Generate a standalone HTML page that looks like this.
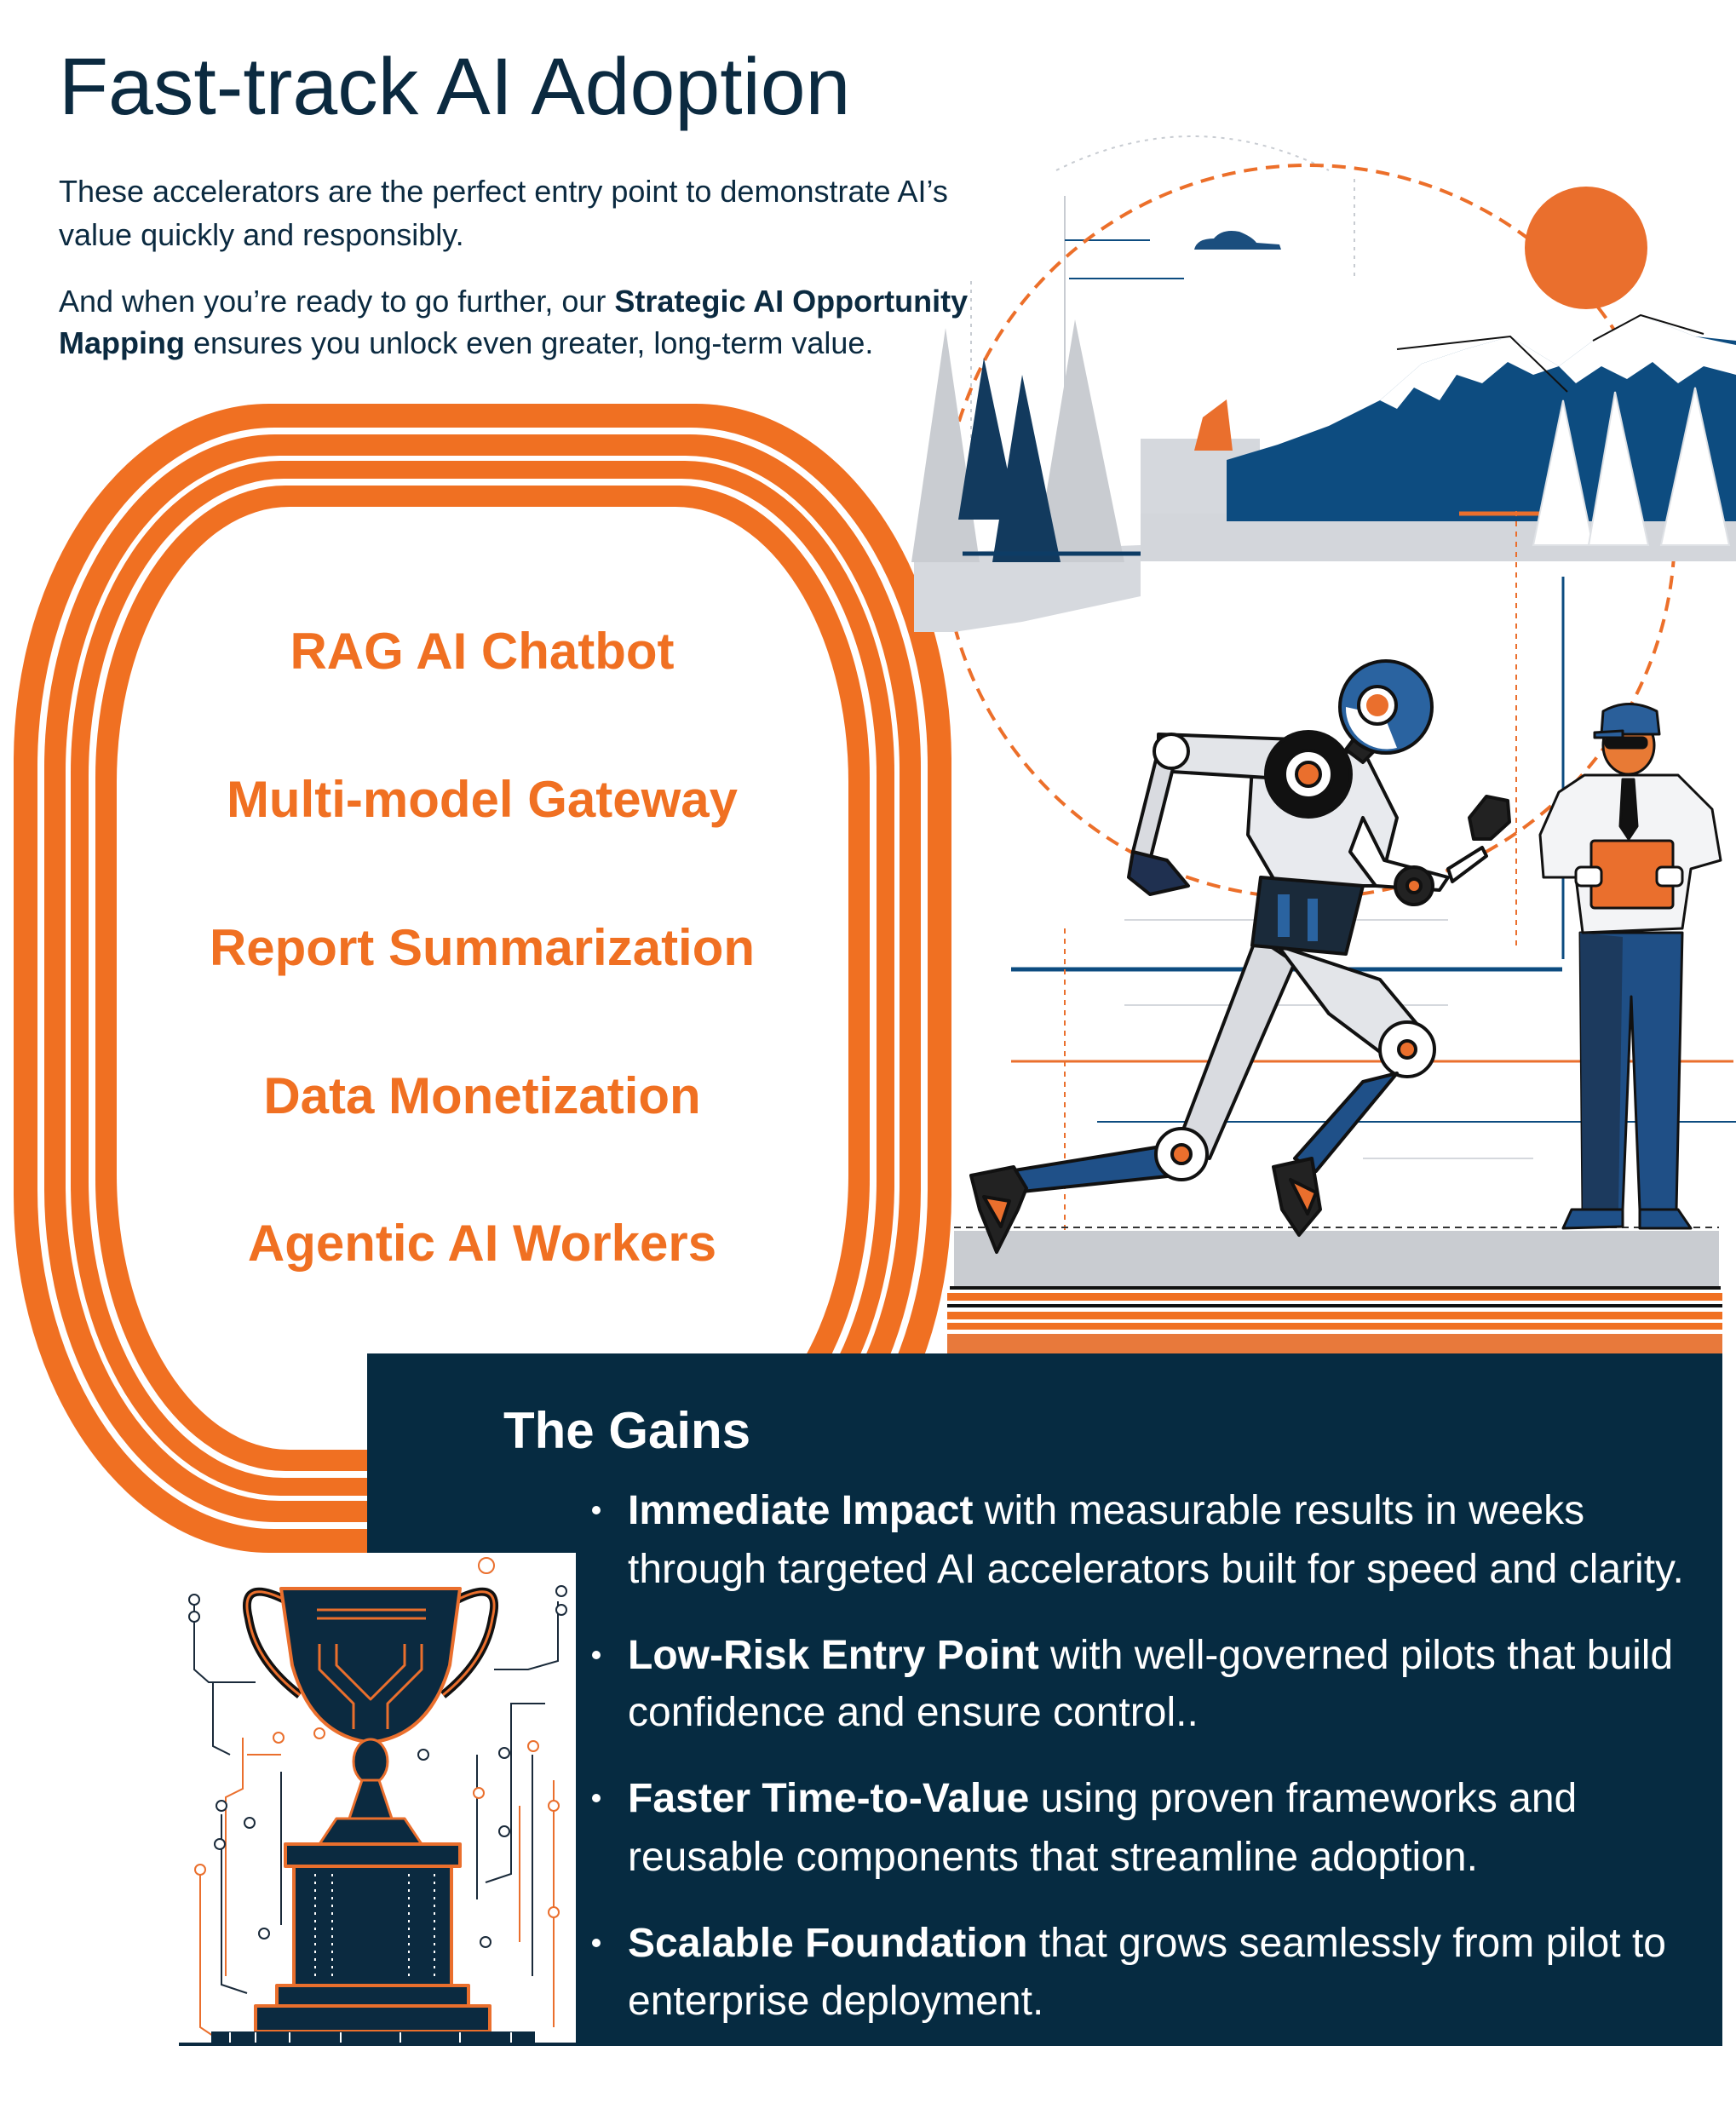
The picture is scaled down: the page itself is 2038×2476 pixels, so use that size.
<!DOCTYPE html>
<html><head><meta charset="utf-8"><style>
html,body{margin:0;padding:0;background:#fff}
svg{display:block}
text{font-family:"Liberation Sans",Arial,sans-serif}
</style></head><body>
<svg width="2038" height="2476" viewBox="0 0 2038 2476" xmlns="http://www.w3.org/2000/svg">
<rect width="2038" height="2476" fill="#fff"/>

<!-- Track -->
<rect x="16" y="474" width="1101" height="1349" rx="300" ry="420" fill="#f07022"/>
<rect x="44" y="502" width="1045" height="1293" rx="278" ry="398" fill="#fff"/>
<rect x="52" y="510" width="1029" height="1277" rx="271" ry="391" fill="#f07022"/>
<rect x="77" y="535" width="979" height="1227" rx="251" ry="371" fill="#fff"/>
<rect x="83" y="541" width="967" height="1215" rx="246" ry="366" fill="#f07022"/>
<rect x="104" y="562" width="925" height="1173" rx="229" ry="349" fill="#fff"/>
<rect x="112" y="570" width="909" height="1157" rx="223" ry="343" fill="#f07022"/>
<rect x="137" y="595" width="859" height="1107" rx="203" ry="323" fill="#fff"/>

<!-- Title & intro -->
<text x="69" y="134" font-size="95" fill="#0b2a40">Fast-track AI Adoption</text>
<g font-size="36" fill="#0b2a40">
<text x="69" y="237">These accelerators are the perfect entry point to demonstrate AI’s</text>
<text x="69" y="288">value quickly and responsibly.</text>
<text x="69" y="366">And when you’re ready to go further, our <tspan font-weight="bold">Strategic AI Opportunity</tspan></text>
<text x="69" y="415"><tspan font-weight="bold">Mapping</tspan> ensures you unlock even greater, long-term value.</text>
</g>

<!-- Menu items -->
<g font-size="60" font-weight="bold" fill="#f07022" text-anchor="middle">
<text x="566" y="785">RAG AI Chatbot</text>
<text x="566" y="959">Multi-model Gateway</text>
<text x="566" y="1133">Report Summarization</text>
<text x="566" y="1307">Data Monetization</text>
<text x="566" y="1480">Agentic AI Workers</text>
</g>

<!-- Illustration -->
<g>
<g stroke="#c8ccd2" stroke-width="2" fill="none">
<line x1="1140" y1="330" x2="1140" y2="740" stroke-dasharray="4 6"/>
<line x1="1250" y1="230" x2="1250" y2="600"/>
<line x1="1590" y1="210" x2="1590" y2="330" stroke-dasharray="4 6"/>
<path d="M1240 200 Q1400 120 1560 200" stroke-dasharray="4 6"/>
</g>
<line x1="1250" y1="282" x2="1350" y2="282" stroke="#0d4c80" stroke-width="2"/>
<line x1="1255" y1="327" x2="1390" y2="327" stroke="#0d4c80" stroke-width="2"/>
<circle cx="1536" cy="624" r="430" fill="none" stroke="#ec6f2a" stroke-width="4" stroke-dasharray="16 10"/>
<circle cx="1862" cy="291" r="72" fill="#ea6f2d"/>
<path d="M1402 293 Q1405 280 1425 280 Q1435 268 1455 272 Q1470 278 1475 285 L1502 287 L1504 293 Z" fill="#1b4e7e"/>
<path d="M1073 650 L1339 640 L1339 700 L1200 730 L1120 742 L1073 742 Z" fill="#d6d9de"/>
<rect x="1339" y="515" width="140" height="144" fill="#d5d8dd"/>
<rect x="1339" y="603" width="699" height="56" fill="#d3d6db"/>
<path d="M1440 612 L1440 540 L1500 522 L1560 500 L1620 470 L1669 427 L1720 410 L1773 395 L1830 430 L1870 400 L1926 370 L1990 395 L2038 400 L2038 612 Z" fill="#0d4c80"/>
<path d="M1620 470 L1669 427 L1720 410 L1773 395 L1830 430 L1800 440 L1770 425 L1740 450 L1710 440 L1690 470 L1660 455 L1640 480 Z" fill="#fff"/>
<path d="M1830 430 L1870 400 L1926 370 L1990 395 L2038 405 L2038 440 L2000 430 L1970 450 L1940 425 L1910 445 L1880 430 L1850 450 Z" fill="#fff"/>
<path d="M1640 410 L1773 395 L1840 460" stroke="#111" stroke-width="2" fill="none"/>
<path d="M1870 400 L1926 370 L2000 392" stroke="#111" stroke-width="2" fill="none"/>
<path d="M1402 529 L1412 490 L1440 469 L1447 529 Z" fill="#ea6f2d"/>
<line x1="1713" y1="603" x2="1808" y2="603" stroke="#ea6f2d" stroke-width="5"/>
<g fill="#fff" stroke="#dfe2e6" stroke-width="2">
<path d="M1835 470 L1870 640 L1800 640 Z"/>
<path d="M1896 460 L1935 640 L1865 640 Z"/>
<path d="M1990 455 L2030 640 L1950 640 Z"/>
</g>
<g fill="#c9ccd1">
<path d="M1110 385 L1150 660 L1070 660 Z"/>
<path d="M1262 375 L1320 660 L1215 660 Z"/>
</g>
<g fill="#123a5e">
<path d="M1155 420 L1195 610 L1125 610 Z"/>
<path d="M1200 440 L1245 660 L1165 660 Z"/>
</g>
<line x1="1130" y1="650" x2="1339" y2="650" stroke="#0d3c65" stroke-width="5"/>

<line x1="1187" y1="1138" x2="1834" y2="1138" stroke="#0d4c80" stroke-width="5"/>
<line x1="1187" y1="1246" x2="2035" y2="1246" stroke="#ea6f2d" stroke-width="3"/>
<line x1="1288" y1="1317" x2="2038" y2="1317" stroke="#0d4c80" stroke-width="2"/>
<line x1="1835" y1="677" x2="1835" y2="1126" stroke="#0d4c80" stroke-width="3"/>
<line x1="1250" y1="1090" x2="1250" y2="1500" stroke="#ea6f2d" stroke-width="2" stroke-dasharray="6 6"/>
<line x1="1780" y1="600" x2="1780" y2="1110" stroke="#ea6f2d" stroke-width="2" stroke-dasharray="6 6"/>
<g stroke="#d5d8dd" stroke-width="2">
<line x1="1320" y1="1080" x2="1700" y2="1080"/>
<line x1="1320" y1="1180" x2="1700" y2="1180"/>
<line x1="1600" y1="1360" x2="1800" y2="1360"/>
</g>

<rect x="1120" y="1445" width="898" height="65" fill="#c9ccd1"/>
<line x1="1120" y1="1441" x2="2018" y2="1441" stroke="#333" stroke-width="2" stroke-dasharray="8 6"/>
<rect x="1115" y="1510" width="905" height="4" fill="#111"/>
<rect x="1112" y="1518" width="910" height="9" fill="#f07022"/>
<rect x="1112" y="1531" width="910" height="4" fill="#111"/>
<rect x="1112" y="1540" width="910" height="9" fill="#f07022"/>
<rect x="1112" y="1553" width="910" height="8" fill="#f07022"/>
<rect x="1112" y="1566" width="910" height="23" fill="#e8793b"/>

<g stroke="#111" stroke-width="4" stroke-linejoin="round">
<path d="M1475 1100 L1520 1130 L1420 1360 L1380 1350 Z" fill="#d9dbe0"/>
<path d="M1400 1340 L1380 1380 L1190 1400 L1185 1375 Z" fill="#1f5088"/>
<circle cx="1387" cy="1355" r="30" fill="#fff"/>
<circle cx="1387" cy="1355" r="11" fill="#ea6f2d"/>
<path d="M1190 1370 L1140 1380 L1150 1420 L1170 1470 L1195 1420 L1205 1395 Z" fill="#222"/>
<path d="M1155 1405 L1175 1440 L1185 1410 Z" fill="#ea6f2d"/>
<path d="M1500 1110 L1620 1150 L1670 1210 L1640 1250 L1560 1190 Z" fill="#e3e5e9"/>
<circle cx="1652" cy="1232" r="32" fill="#fff"/>
<circle cx="1652" cy="1232" r="10" fill="#ea6f2d"/>
<path d="M1640 1260 L1600 1270 L1520 1360 L1545 1375 Z" fill="#1f5088"/>
<path d="M1495 1370 L1540 1360 L1550 1420 L1525 1450 L1505 1420 Z" fill="#222"/>
<path d="M1515 1385 L1535 1425 L1545 1400 Z" fill="#ea6f2d"/>
<path d="M1470 900 L1600 880 L1640 960 L1620 1040 L1500 1040 L1465 980 Z" fill="#e8eaee"/>
<path d="M1480 1030 L1600 1040 L1580 1120 L1470 1110 Z" fill="#1a2a3a"/>
<rect x="1500" y="1050" width="14" height="50" fill="#2a63a0" stroke="none"/>
<rect x="1535" y="1055" width="12" height="50" fill="#2a63a0" stroke="none"/>
<path d="M1360 862 L1520 868 L1520 915 L1360 905 Z" fill="#e3e5e9"/>
<path d="M1360 880 L1380 890 L1350 1010 L1330 1000 Z" fill="#d9dbe0"/>
<circle cx="1375" cy="882" r="20" fill="#fff"/>
<path d="M1330 1000 L1370 1010 L1395 1040 L1350 1050 L1325 1030 Z" fill="#1f3050"/>
<circle cx="1536" cy="909" r="50" fill="#111"/>
<circle cx="1536" cy="909" r="28" fill="#fff"/>
<circle cx="1536" cy="909" r="14" fill="#ea6f2d"/>
<path d="M1600 960 L1625 1010 L1700 1030 L1690 1045 L1615 1040 L1585 1000 Z" fill="#fff"/>
<circle cx="1660" cy="1040" r="22" fill="#222"/>
<circle cx="1660" cy="1040" r="8" fill="#ea6f2d"/>
<path d="M1700 1020 L1740 995 L1745 1005 L1705 1035 Z" fill="#fff"/>
<path d="M1725 960 L1745 935 L1770 940 L1772 965 L1750 985 L1730 985 Z" fill="#222"/>
<path d="M1595 860 L1615 880 L1600 895 L1580 880 Z" fill="#222"/>
<circle cx="1627" cy="830" r="54" fill="#2a63a0"/>
<path d="M1580 830 A48 48 0 0 0 1640 878 L1625 840 Z" fill="#fff" stroke="none"/>
<circle cx="1617" cy="828" r="22" fill="#fff"/>
<circle cx="1617" cy="828" r="13" fill="#ea6f2d" stroke="none"/>
</g>

<g stroke="#111" stroke-width="3" stroke-linejoin="round">
<path d="M1855 1095 L1975 1095 L1968 1420 L1925 1420 L1915 1170 L1905 1420 L1858 1420 Z" fill="#1f4f86"/>
<path d="M1855 1095 L1905 1100 L1900 1420 L1858 1420 Z" fill="#1c3a5e" stroke="none"/>
<path d="M1845 1420 L1905 1420 L1905 1440 L1835 1442 Z" fill="#1f5088"/>
<path d="M1925 1420 L1970 1420 L1985 1442 L1925 1442 Z" fill="#1f5088"/>
<path d="M1860 910 L1970 910 L2010 950 L2020 1010 L1985 1020 L1975 1090 L1858 1095 L1850 1030 L1812 1030 L1808 980 L1830 930 Z" fill="#f3f4f6"/>
<path d="M1905 915 L1918 915 L1922 970 L1912 985 L1902 970 Z" fill="#111"/>
<rect x="1868" y="987" width="96" height="79" rx="4" fill="#ea6f2d"/>
<rect x="1850" y="1018" width="30" height="22" rx="6" fill="#fff"/>
<rect x="1945" y="1018" width="30" height="22" rx="6" fill="#fff"/>
<ellipse cx="1912" cy="875" rx="30" ry="34" fill="#e87a35"/>
<path d="M1880 862 L1882 835 Q1912 818 1945 835 L1948 862 Z" fill="#2a5f9a"/>
<path d="M1872 860 L1905 858 L1905 866 L1872 866 Z" fill="#2a5f9a"/>
<rect x="1885" y="866" width="48" height="12" rx="5" fill="#111"/>
</g>
</g>

<!-- Gains box -->
<rect x="431" y="1589" width="1591" height="813" fill="#062b41"/>
<text x="591" y="1700" font-size="60" font-weight="bold" fill="#fff">The Gains</text>
<g font-size="48" fill="#fff">
<circle cx="700" cy="1773" r="5"/>
<text x="737" y="1789"><tspan font-weight="bold">Immediate Impact</tspan> with measurable results in weeks</text>
<text x="737" y="1858">through targeted AI accelerators built for speed and clarity.</text>
<circle cx="700" cy="1943" r="5"/>
<text x="737" y="1959"><tspan font-weight="bold">Low-Risk Entry Point</tspan> with well-governed pilots that build</text>
<text x="737" y="2026">confidence and ensure control..</text>
<circle cx="700" cy="2111" r="5"/>
<text x="737" y="2127"><tspan font-weight="bold">Faster Time-to-Value</tspan> using proven frameworks and</text>
<text x="737" y="2196">reusable components that streamline adoption.</text>
<circle cx="700" cy="2281" r="5"/>
<text x="737" y="2297"><tspan font-weight="bold">Scalable Foundation</tspan> that grows seamlessly from pilot to</text>
<text x="737" y="2365">enterprise deployment.</text>
</g>

<!-- Trophy -->
<rect x="210" y="1823" width="466" height="577" fill="#fff"/>
<g fill="none" stroke-width="2">
<g stroke="#1a2a3a">
<path d="M228 1880 L228 1960 L245 1975 L300 1975"/>
<path d="M250 1975 L250 2050 L270 2060"/>
<path d="M655 1880 L655 1950 L620 1960 L580 1960"/>
<path d="M640 2000 L600 2000 L600 2200 L570 2210"/>
<path d="M260 2130 L260 2330 L290 2340"/>
<path d="M625 2060 L625 2320"/>
<path d="M330 2080 L330 2260"/>
<path d="M560 2060 L560 2230"/>
</g>
<g stroke="#ea6f2d">
<path d="M285 2040 L285 2100 L265 2110 L265 2320"/>
<path d="M235 2190 L235 2380 L250 2390"/>
<path d="M650 2090 L650 2380"/>
<path d="M290 2060 L330 2060"/>
<path d="M610 2120 L610 2280"/>
</g>
<g stroke="#1a2a3a" fill="#fff">
<circle cx="228" cy="1878" r="6"/><circle cx="228" cy="1898" r="6"/>
<circle cx="659" cy="1868" r="6"/><circle cx="659" cy="1890" r="6"/>
<circle cx="260" cy="2120" r="6"/><circle cx="258" cy="2165" r="6"/>
<circle cx="293" cy="2140" r="6"/><circle cx="592" cy="2058" r="6"/>
<circle cx="592" cy="2150" r="6"/><circle cx="570" cy="2280" r="6"/>
<circle cx="310" cy="2270" r="6"/><circle cx="497" cy="2060" r="6"/>
</g>
<g stroke="#ea6f2d" fill="#fff">
<circle cx="571" cy="1838" r="9"/><circle cx="327" cy="2040" r="6"/>
<circle cx="375" cy="2035" r="6"/><circle cx="626" cy="2050" r="6"/>
<circle cx="562" cy="2105" r="6"/><circle cx="650" cy="2120" r="6"/>
<circle cx="235" cy="2195" r="6"/><circle cx="650" cy="2245" r="6"/>
</g>
</g>
<g stroke-linejoin="round">
<path d="M338 1880 Q280 1850 292 1900 Q300 1950 352 1990" fill="none" stroke="#111" stroke-width="10"/>
<path d="M533 1880 Q590 1850 578 1900 Q570 1950 520 1990" fill="none" stroke="#111" stroke-width="10"/>
<path d="M338 1880 Q280 1850 292 1900 Q300 1950 352 1990" fill="none" stroke="#ea6f2d" stroke-width="3"/>
<path d="M533 1880 Q590 1850 578 1900 Q570 1950 520 1990" fill="none" stroke="#ea6f2d" stroke-width="3"/>
<path d="M330 1865 L540 1865 L528 1955 Q505 2035 440 2045 L430 2045 Q365 2035 343 1955 Z" fill="#0b2a40" stroke="#ea6f2d" stroke-width="4"/>
<g stroke="#ea6f2d" stroke-width="3" fill="none">
<line x1="372" y1="1890" x2="500" y2="1890"/><line x1="372" y1="1900" x2="500" y2="1900"/>
<path d="M375 1930 L375 1960 L415 2000 L415 2030"/>
<path d="M495 1930 L495 1960 L455 2000 L455 2030"/>
<path d="M395 1930 L395 1955 L435 1995 L475 1955 L475 1930"/>
</g>
<ellipse cx="435" cy="2068" rx="20" ry="26" fill="#0b2a40" stroke="#ea6f2d" stroke-width="3"/>
<path d="M425 2090 L445 2090 L460 2135 L410 2135 Z" fill="#0b2a40" stroke="#ea6f2d" stroke-width="3"/>
<path d="M395 2135 L475 2135 L495 2165 L375 2165 Z" fill="#0b2a40" stroke="#ea6f2d" stroke-width="3"/>
<rect x="335" y="2165" width="205" height="26" fill="#0b2a40" stroke="#ea6f2d" stroke-width="4"/>
<rect x="345" y="2191" width="185" height="140" fill="#0b2a40" stroke="#ea6f2d" stroke-width="4"/>
<g stroke="#fff" stroke-width="2" stroke-dasharray="3 6">
<line x1="370" y1="2200" x2="370" y2="2320"/><line x1="390" y1="2200" x2="390" y2="2320"/>
<line x1="480" y1="2200" x2="480" y2="2320"/><line x1="510" y1="2200" x2="510" y2="2320"/>
</g>
<rect x="325" y="2331" width="225" height="24" fill="#0b2a40" stroke="#ea6f2d" stroke-width="4"/>
<rect x="300" y="2355" width="275" height="30" fill="#0b2a40" stroke="#ea6f2d" stroke-width="4"/>
<rect x="248" y="2385" width="380" height="14" fill="#0b2a40"/>
<g stroke="#fff" stroke-width="2">
<line x1="270" y1="2386" x2="270" y2="2398"/><line x1="300" y1="2386" x2="300" y2="2398"/>
<line x1="340" y1="2386" x2="340" y2="2398"/><line x1="400" y1="2386" x2="400" y2="2398"/>
<line x1="470" y1="2386" x2="470" y2="2398"/><line x1="540" y1="2386" x2="540" y2="2398"/>
<line x1="600" y1="2386" x2="600" y2="2398"/>
</g>
</g>
<line x1="210" y1="2400" x2="676" y2="2400" stroke="#0b2a40" stroke-width="4"/>
</svg>
</body></html>
